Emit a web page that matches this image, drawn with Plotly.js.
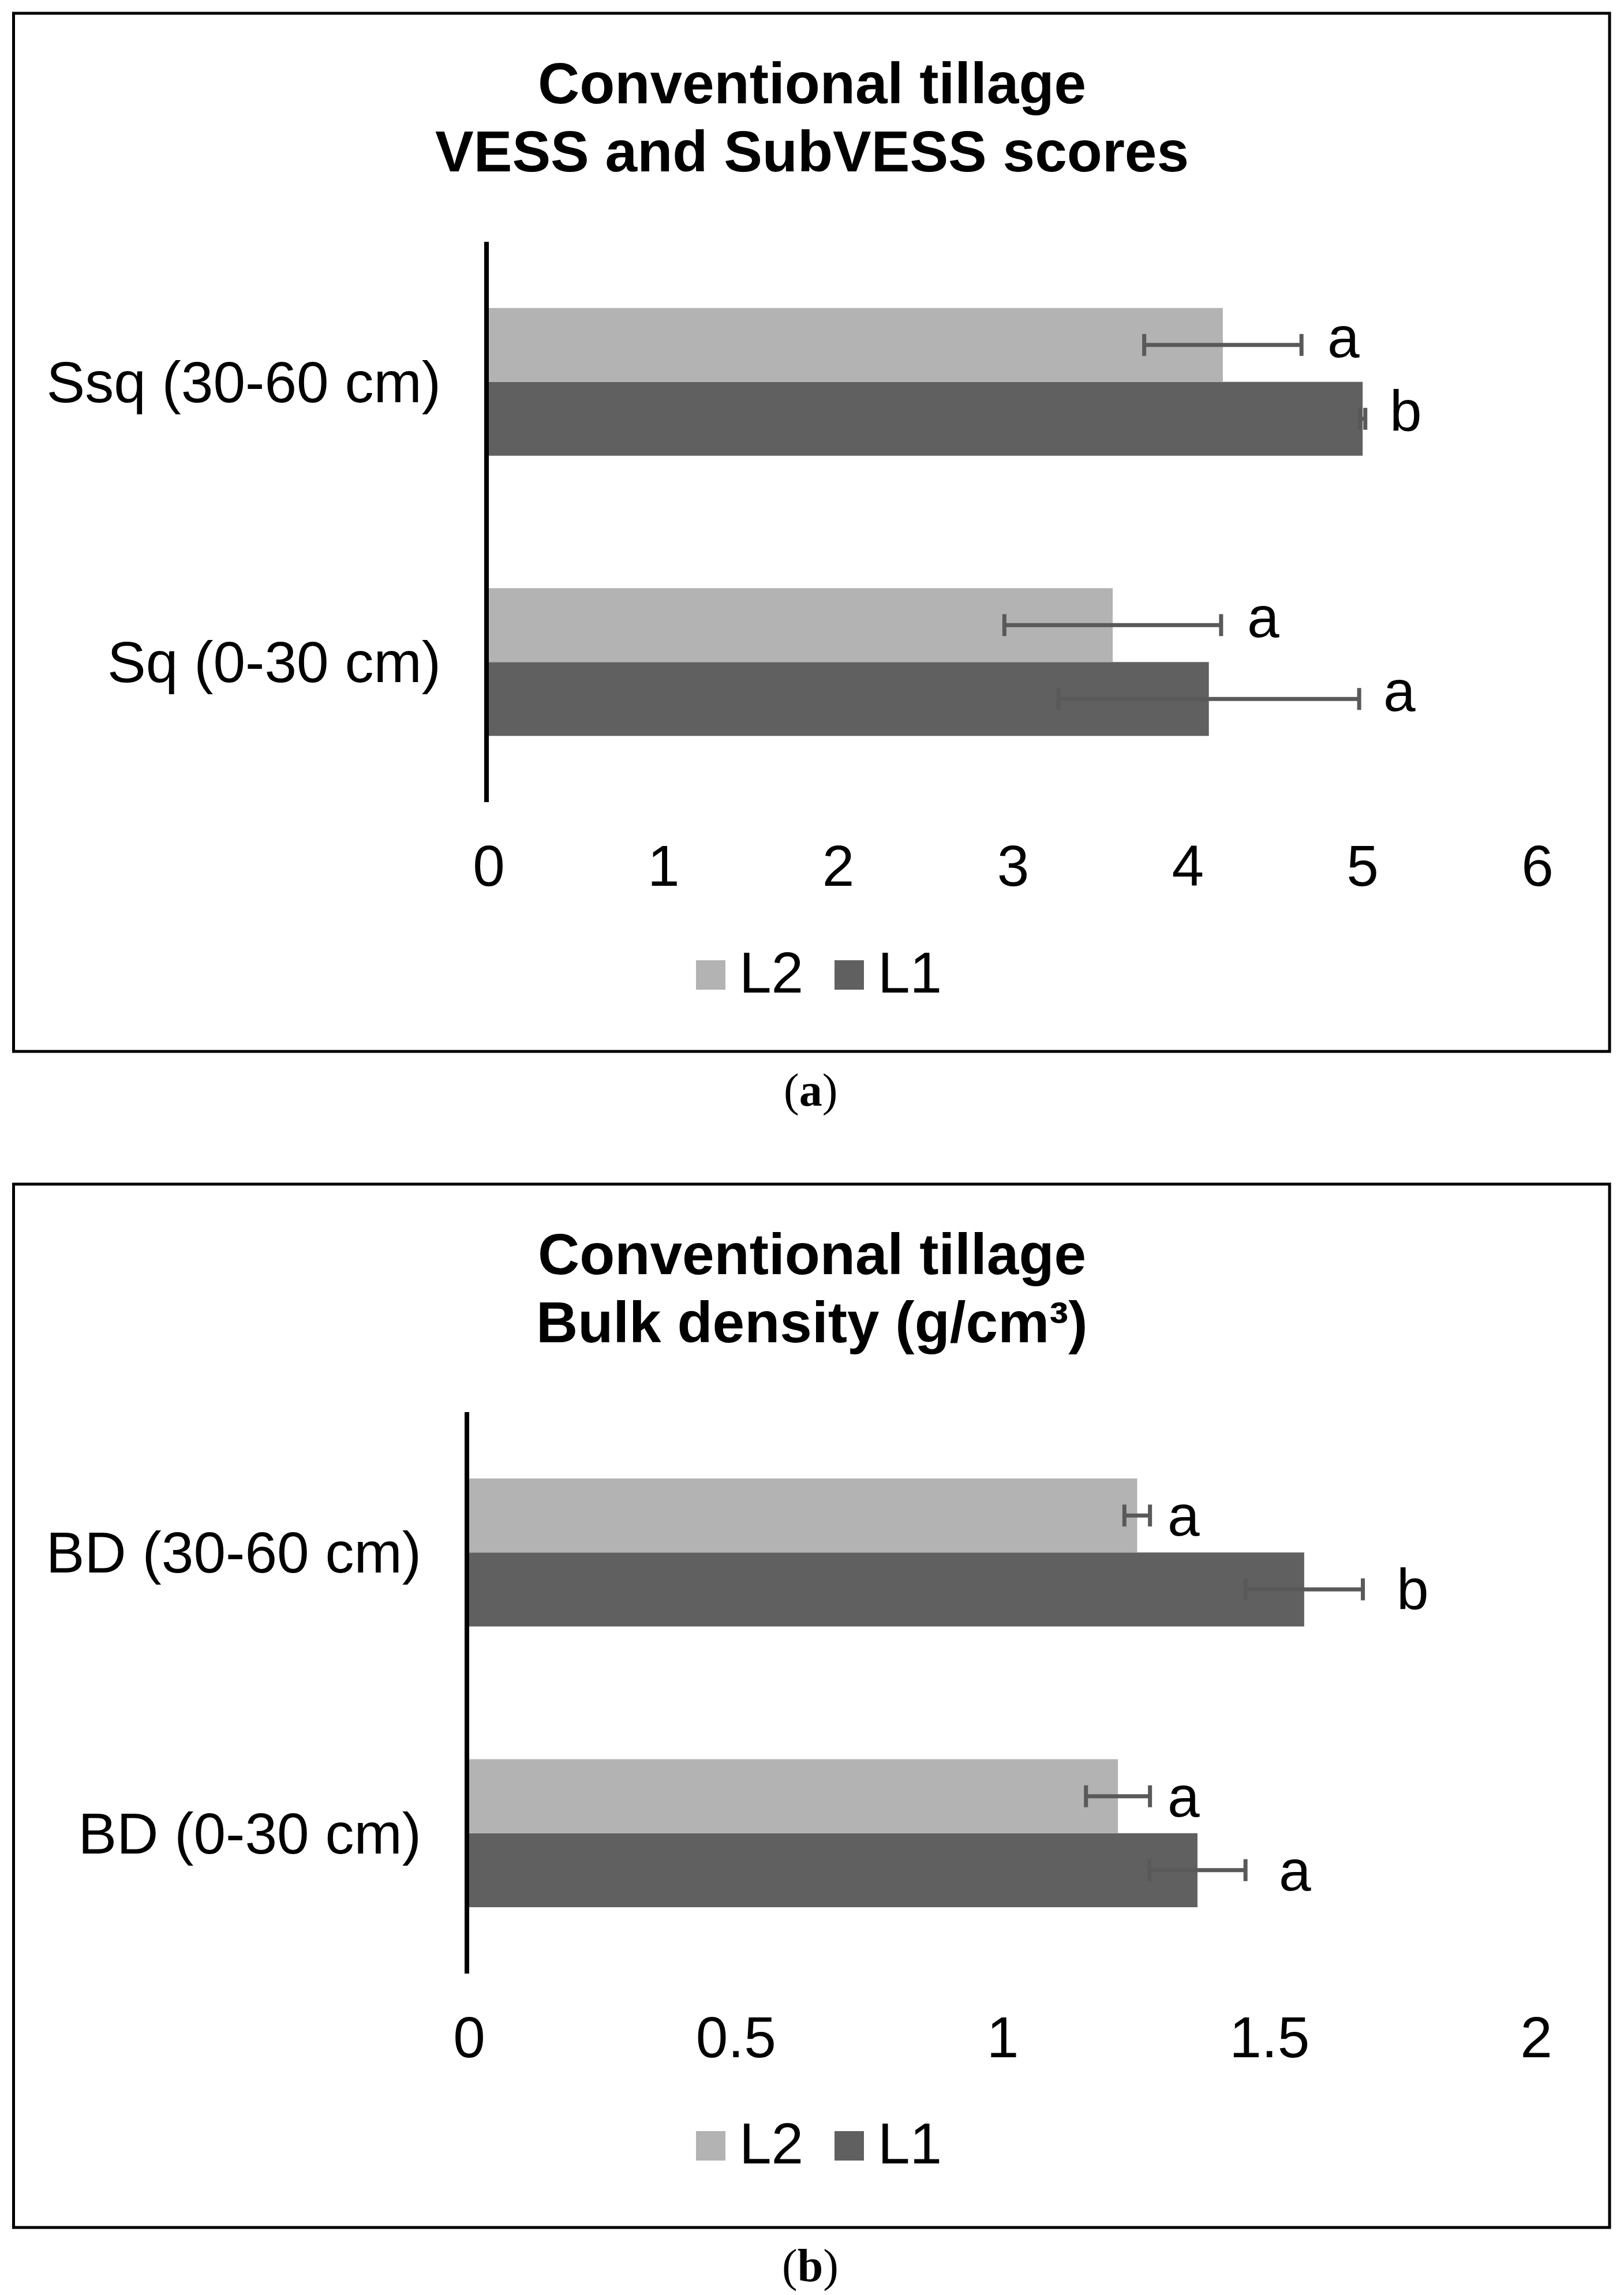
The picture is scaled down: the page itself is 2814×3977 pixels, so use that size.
<!DOCTYPE html>
<html>
<head>
<meta charset="utf-8">
<script src="https://cdn.plot.ly/plotly-3.0.1.min.js"></script>
<style>html,body{margin:0;padding:0;background:#ffffff;}</style>
</head>
<body>
<div id="chart" style="width:2814px;height:3977px;"></div>
<script>
// ---------- Data ----------
const seriesNames = ['L1', 'L2'];

// Panel (a): VESS and SubVESS scores
const categoriesA = ['Sq (0-30 cm)', 'Ssq (30-60 cm)'];
const l1ScoresA = [4.12, 5.00];
const l1ErrorsA = [0.86, 0.015];
const l2ScoresA = [3.57, 4.20];
const l2ErrorsA = [0.62, 0.45];
const l1LettersA = ['a', 'b'];
const l2LettersA = ['a', 'a'];
const tickValsA = [0, 1, 2, 3, 4, 5, 6];
const tickTextA = ['0', '1', '2', '3', '4', '5', '6'];
const titleA = ['Conventional tillage', 'VESS and SubVESS scores'];

// Panel (b): Bulk density
const categoriesB = ['BD (0-30 cm)', 'BD (30-60 cm)'];
const l1DensityB = [1.365, 1.565];
const l1ErrorsB = [0.09, 0.11];
const l2DensityB = [1.216, 1.252];
const l2ErrorsB = [0.06, 0.024];
const l1LettersB = ['a', 'b'];
const l2LettersB = ['a', 'a'];
const tickValsB = [0, 0.5, 1, 1.5, 2];
const tickTextB = ['0', '0.5', '1', '1.5', '2'];
const titleB = ['Conventional tillage', 'Bulk density (g/cm³)'];

const captions = ['(<b>a</b>)', '(<b>b</b>)'];

// ---------- Styling / layout ----------
const W = 2814, H = 3977;
const px = v => v / W;
const py = v => 1 - v / H;
const SANS = 'Liberation Sans, Arial, sans-serif';
const SERIF = 'Liberation Serif, Times New Roman, serif';
const COL_L1 = '#606060';
const COL_L2 = '#b3b3b3';
const COL_ERR = '#595959';
const FS = 100;

function errStyle(arr) {
  return {type: 'data', array: arr, visible: true, color: COL_ERR, thickness: 7, width: 19};
}

const traces = [
  {type: 'bar', orientation: 'h', name: seriesNames[0], y: categoriesA, x: l1ScoresA,
   xaxis: 'x', yaxis: 'y', marker: {color: COL_L1}, error_x: errStyle(l1ErrorsA), hoverinfo: 'none'},
  {type: 'bar', orientation: 'h', name: seriesNames[1], y: categoriesA, x: l2ScoresA,
   xaxis: 'x', yaxis: 'y', marker: {color: COL_L2}, error_x: errStyle(l2ErrorsA), hoverinfo: 'none'},
  {type: 'bar', orientation: 'h', name: seriesNames[0], y: categoriesB, x: l1DensityB,
   xaxis: 'x2', yaxis: 'y2', marker: {color: COL_L1}, error_x: errStyle(l1ErrorsB), hoverinfo: 'none'},
  {type: 'bar', orientation: 'h', name: seriesNames[1], y: categoriesB, x: l2DensityB,
   xaxis: 'x2', yaxis: 'y2', marker: {color: COL_L2}, error_x: errStyle(l2ErrorsB), hoverinfo: 'none'}
];

// panel geometry (pixels in the picture)
const panels = [
  {boxTop: 23, boxBottom: 1822, plotTop: 419, plotBottom: 1390, xl: 847, xr: 2664, cap: 1889, letterLift: 14},
  {boxTop: 2052, boxBottom: 3860, plotTop: 2447, plotBottom: 3420, xl: 813, xr: 2662, cap: 3926, letterLift: 0}
];
const BOX_L = 23.5, BOX_R = 2789;

function xAxis(p, range, vals, text, anchor) {
  return {
    domain: [px(p.xl), px(p.xr)], range: range, anchor: anchor,
    tickmode: 'array', tickvals: vals, ticktext: text,
    showgrid: false, zeroline: false, showline: false, ticks: '',
    ticklabelstandoff: 44,
    tickfont: {family: SANS, size: FS, color: '#000000'}, fixedrange: true
  };
}
function yAxis(p, cats, anchor) {
  return {
    domain: [py(p.plotBottom), py(p.plotTop)], anchor: anchor,
    type: 'category', categoryorder: 'array', categoryarray: cats,
    showgrid: false, zeroline: false, showline: true, linecolor: '#000000', linewidth: 8,
    ticks: '', ticklabelstandoff: 55,
    tickfont: {family: SANS, size: FS, color: '#000000'}, fixedrange: true
  };
}

const annotations = [];
const shapes = [];

function addPanel(idx, p, title, cats, l1v, l1e, l2v, l2e, l1L, l2L, xref, yref, shiftL1, shiftL2) {
  // frame
  shapes.push({type: 'rect', xref: 'paper', yref: 'paper',
    x0: px(BOX_L), x1: px(BOX_R), y0: py(p.boxBottom), y1: py(p.boxTop),
    line: {color: '#000000', width: 5}, fillcolor: 'rgba(0,0,0,0)'});
  // title lines
  annotations.push({xref: 'paper', yref: 'paper', x: 0.5, y: py(p.boxTop + 121), text: '<b>' + title[0] + '</b>',
    showarrow: false, xanchor: 'center', yanchor: 'middle', font: {family: SANS, size: FS, color: '#000000'}});
  annotations.push({xref: 'paper', yref: 'paper', x: 0.5, y: py(p.boxTop + 239), text: '<b>' + title[1] + '</b>',
    showarrow: false, xanchor: 'center', yanchor: 'middle', font: {family: SANS, size: FS, color: '#000000'}});
  // significance letters
  const half = (p.plotBottom - p.plotTop) / cats.length * (1 - 0.473) / 4;
  for (let i = 0; i < cats.length; i++) {
    annotations.push({xref: xref, yref: yref, x: l1v[i] + l1e[i], y: i, xshift: shiftL1, yshift: -half + p.letterLift,
      text: l1L[i], showarrow: false, xanchor: 'center', yanchor: 'middle',
      font: {family: SANS, size: FS, color: '#000000'}});
    annotations.push({xref: xref, yref: yref, x: l2v[i] + l2e[i], y: i, xshift: shiftL2, yshift: half + p.letterLift,
      text: l2L[i], showarrow: false, xanchor: 'center', yanchor: 'middle',
      font: {family: SANS, size: FS, color: '#000000'}});
  }
  // legend (L2 then L1)
  const ly = p.boxTop + 1662;
  const items = [{name: seriesNames[1], color: COL_L2, sx: 1206, tx: 1287},
                 {name: seriesNames[0], color: COL_L1, sx: 1446, tx: 1527}];
  items.forEach(it => {
    shapes.push({type: 'rect', xref: 'paper', yref: 'paper',
      x0: px(it.sx), x1: px(it.sx + 51), y0: py(ly + 30), y1: py(ly - 21),
      line: {width: 0}, fillcolor: it.color});
    annotations.push({xref: 'paper', yref: 'paper', x: px(it.tx - 8), y: py(ly), text: it.name,
      showarrow: false, xanchor: 'left', yanchor: 'middle', font: {family: SANS, size: FS, color: '#000000'}});
  });
  // caption
  annotations.push({xref: 'paper', yref: 'paper', x: px(1404), y: py(p.cap), text: captions[idx],
    showarrow: false, xanchor: 'center', yanchor: 'middle', font: {family: SERIF, size: 80, color: '#000000'}});
}

addPanel(0, panels[0], titleA, categoriesA, l1ScoresA, l1ErrorsA, l2ScoresA, l2ErrorsA,
  l1LettersA, l2LettersA, 'x', 'y', 70, 73);
addPanel(1, panels[1], titleB, categoriesB, l1DensityB, l1ErrorsB, l2DensityB, l2ErrorsB,
  l1LettersB, l2LettersB, 'x2', 'y2', 86, 58);

const layout = {
  width: W, height: H,
  margin: {l: 0, r: 0, t: 0, b: 0, pad: 0},
  paper_bgcolor: '#ffffff', plot_bgcolor: '#ffffff',
  showlegend: false,
  barmode: 'group', bargap: 0.473, bargroupgap: 0,
  font: {family: SANS, size: FS, color: '#000000'},
  xaxis: xAxis(panels[0], [0, 6], tickValsA, tickTextA, 'y'),
  yaxis: yAxis(panels[0], categoriesA, 'x'),
  xaxis2: xAxis(panels[1], [0, 2], tickValsB, tickTextB, 'y2'),
  yaxis2: yAxis(panels[1], categoriesB, 'x2'),
  annotations: annotations,
  shapes: shapes
};

Plotly.newPlot('chart', traces, layout, {displayModeBar: false, staticPlot: true});
</script>
</body>
</html>
